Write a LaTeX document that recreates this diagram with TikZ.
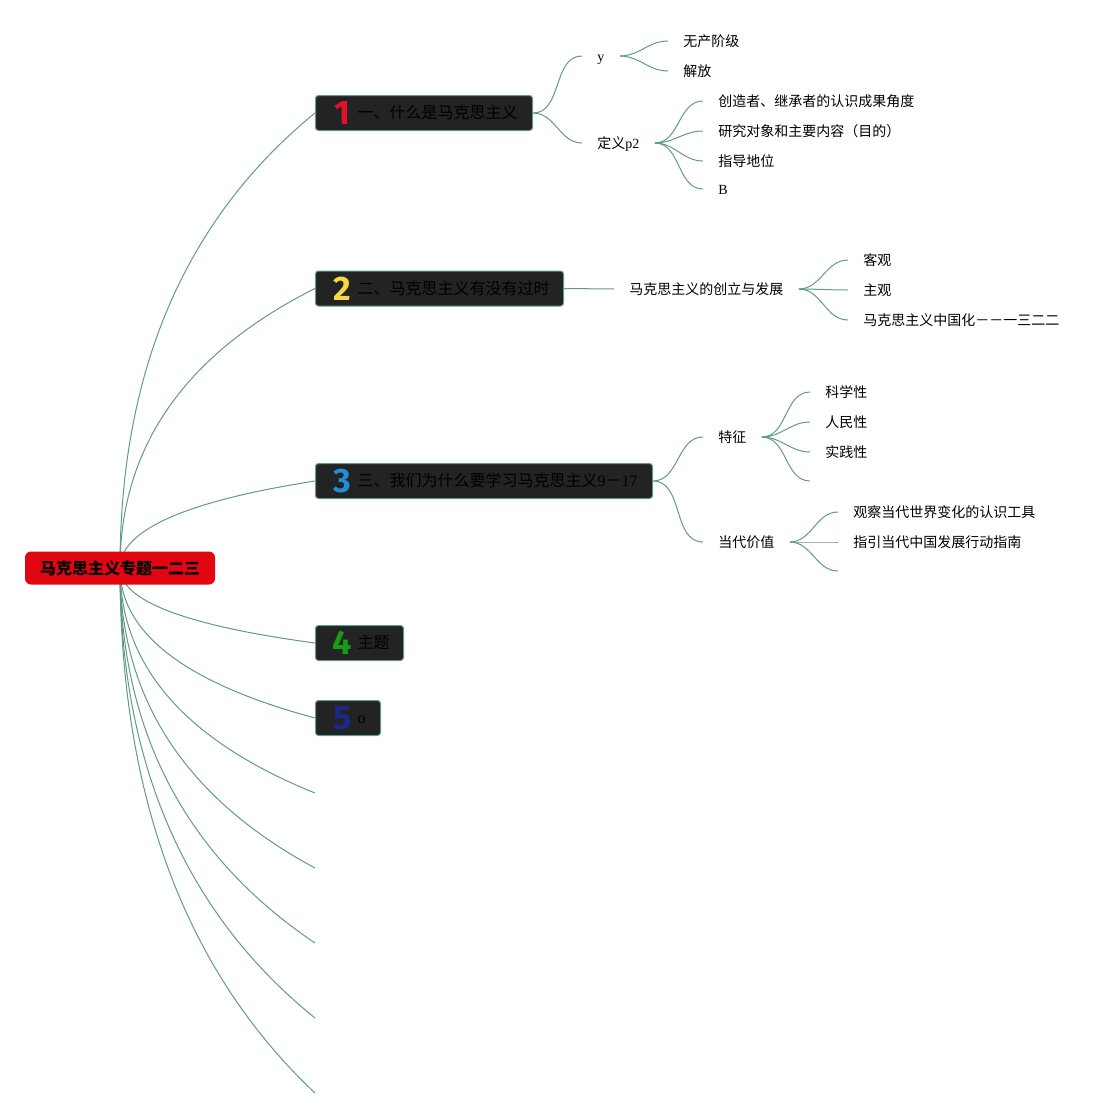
\documentclass[tikz,border=0pt]{standalone}
\usepackage{fontspec}
\setmainfont{Liberation Serif}
\newfontfamily\cjk{Noto Sans CJK SC}
\newfontfamily\numfont{Fira Sans}
\usetikzlibrary{calc,backgrounds}
\definecolor{linkc}{RGB}{95,155,135}
\definecolor{boxc}{RGB}{35,35,35}
\definecolor{rootc}{RGB}{226,6,19}
\definecolor{numa}{RGB}{229,16,42}
\definecolor{numb}{RGB}{245,215,66}
\definecolor{numc}{RGB}{30,143,216}
\definecolor{numd}{RGB}{26,154,26}
\definecolor{nume}{RGB}{26,40,138}
\newcommand\tnum[2]{\hspace*{8.5pt}\makebox[10pt]{\raisebox{-3pt}{\numfont\bfseries\fontsize{17}{17}\selectfont\color{#1}#2}}\hspace{2.5pt}}
\tikzset{
  link/.style={draw=linkc, line width=0.5pt},
  rootlink/.style={to path={let \p1=(\tikztostart), \p2=(\tikztotarget) in
     .. controls (\x1,{\y1+0.4333*(\y2-\y1)}) and ({\x2-0.6667*(\x2-\x1)},{\y2-0.2333*(\y2-\y1)}) .. (\tikztotarget)}},
  sub/.style={out=0,in=180},
  rootbox/.style={fill=rootc, rounded corners=3pt, minimum width=95pt, minimum height=16.5pt, inner sep=0pt, font=\fontsize{8}{9}\selectfont\bfseries\cjk},
  topic/.style={draw=linkc, fill=boxc, rounded corners=1.5pt, anchor=west, inner xsep=0pt, inner ysep=0pt, minimum height=17.5pt, align=left, font=\fontsize{8}{9}\selectfont, text=black, line width=0.5pt},
  leaf/.style={anchor=west, inner xsep=7.5pt, inner ysep=0.5pt, text height=6.2pt, text depth=0.85pt, font=\fontsize{7}{8}\selectfont, text=black},
}
\begin{document}
\begin{tikzpicture}[x=0.5pt,y=-0.5pt]
\useasboundingbox (0,0) rectangle (1119,1119);
% root
\node[rootbox] (root) at (120,568) {马克思主义专题一二三};
% topics
\node[topic, text width=108.5pt] (t1) at (315,113) {\tnum{numa}{1}{\cjk 一、什么是马克思主义}};
\node[topic, text width=124pt] (t2) at (315,288.5) {\tnum{numb}{2}{\cjk 二、马克思主义有没有过时}};
\node[topic, text width=168.5pt] (t3) at (315,481) {\tnum{numc}{3}{\cjk 三、我们为什么要学习马克思主义}9{\cjk －}17};
\node[topic, text width=44pt] (t4) at (315,643) {\tnum{numd}{4}{\cjk 主题}};
\node[topic, text width=32.5pt] (t5) at (315,718) {\tnum{nume}{5}o};
\coordinate (e1) at (315,793);
\coordinate (e2) at (315,868);
\coordinate (e3) at (315,943);
\coordinate (e4) at (315,1018);
\coordinate (e5) at (315,1093);
% branch 1
\node[leaf] (ay) at (582,56) {y};
\node[leaf] (ad) at (582,143) {{\cjk 定义}p2};
\node[leaf] (ay1) at (668,41) {\cjk 无产阶级};
\node[leaf] (ay2) at (668,71) {\cjk 解放};
\node[leaf] (ad1) at (703,101) {\cjk 创造者、继承者的认识成果角度};
\node[leaf] (ad2) at (703,131) {\cjk 研究对象和主要内容（目的）};
\node[leaf] (ad3) at (703,161) {\cjk 指导地位};
\node[leaf] (ad4) at (703,189) {B};
% branch 2
\node[leaf] (b) at (614,289) {\cjk 马克思主义的创立与发展};
\node[leaf] (b1) at (848,260) {\cjk 客观};
\node[leaf] (b2) at (848,290) {\cjk 主观};
\node[leaf] (b3) at (848,320) {\cjk 马克思主义中国化－－一三二二};
% branch 3
\node[leaf] (c) at (703,437) {\cjk 特征};
\node[leaf] (d) at (703,542) {\cjk 当代价值};
\node[leaf] (c1) at (810,392) {\cjk 科学性};
\node[leaf] (c2) at (810,422) {\cjk 人民性};
\node[leaf] (c3) at (810,452) {\cjk 实践性};
\coordinate (c4) at (810,481);
\node[leaf] (d1) at (838,512) {\cjk 观察当代世界变化的认识工具};
\node[leaf] (d2) at (838,542) {\cjk 指引当代中国发展行动指南};
\coordinate (d3) at (838,571);
% connectors
\begin{scope}[on background layer]
\foreach \t in {t1.west,t2.west,t3.west,t4.west,t5.west,e1,e2,e3,e4,e5}
  \draw[link] (root.center) to[rootlink] (\t);
\draw[link] (t1.east) to[sub] (ay.west);
\draw[link] (t1.east) to[sub] (ad.west);
\draw[link] (ay.east) to[sub] (ay1.west);
\draw[link] (ay.east) to[sub] (ay2.west);
\foreach \n in {ad1,ad2,ad3,ad4}
  \draw[link] (ad.east) to[sub] (\n.west);
\draw[link] (t2.east) -- (b.west);
\foreach \n in {b1,b2,b3}
  \draw[link] (b.east) to[sub] (\n.west);
\draw[link] (t3.east) to[sub] (c.west);
\draw[link] (t3.east) to[sub] (d.west);
\foreach \n in {c1.west,c2.west,c3.west,c4}
  \draw[link] (c.east) to[sub] (\n);
\foreach \n in {d1.west,d2.west,d3}
  \draw[link] (d.east) to[sub] (\n);
\end{scope}
\end{tikzpicture}
\end{document}
